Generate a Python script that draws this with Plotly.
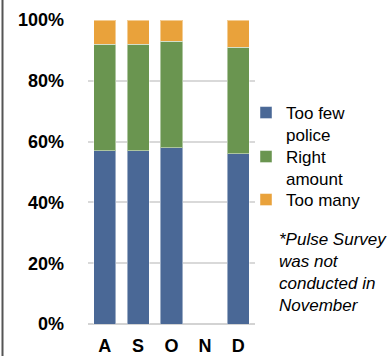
import plotly.graph_objects as go

# Monthly survey shares (November survey was not run)
months = ["A", "S", "O", "N", "D"]
too_few = [0.57, 0.57, 0.58, None, 0.56]
right_amount = [0.35, 0.35, 0.35, None, 0.35]
too_many = [0.08, 0.08, 0.07, None, 0.09]

series = [
    ("Too few<br>police", too_few, "#4A6896"),
    ("Right<br>amount", right_amount, "#6A9550"),
    ("Too many", too_many, "#E9A23B"),
]

W, H = 389, 356
ML, MR, MT, MB = 88, 134, 20, 32
PW, PH = W - ML - MR, H - MT - MB

font = "Liberation Sans, Arial, sans-serif"

# one legend box per series so the entries sit tightly stacked
legend_ids = ["legend", "legend2", "legend3"]
legend_tops_px = [95, 139, 182]

fig = go.Figure()
for (name, vals, color), lid in zip(series, legend_ids):
    fig.add_trace(go.Bar(
        x=months, y=vals, name=name, legend=lid,
        marker=dict(color=color, line=dict(color="rgba(255,255,255,0.45)", width=1)),
    ))

legend_style = dict(
    x=(246 - ML) / PW, xanchor="left", yanchor="top",
    valign="top", bgcolor="rgba(0,0,0,0)",
    font=dict(family=font, size=17, color="#000"),
)
legends = {
    lid: dict(legend_style, y=(H - MB - top) / PH)
    for lid, top in zip(legend_ids, legend_tops_px)
}

fig.update_layout(
    width=W, height=H,
    margin=dict(l=ML, r=MR, t=MT, b=MB, autoexpand=False),
    paper_bgcolor="white", plot_bgcolor="white",
    barmode="stack", bargap=0.34,
    showlegend=True,
    font=dict(family=font, color="#000"),
    **legends,
)

fig.update_yaxes(
    range=[0, 1], dtick=0.2, tickformat=".0%",
    showgrid=True, gridcolor="#D9D9D9", gridwidth=2,
    zeroline=True, zerolinecolor="#D3D3D3", zerolinewidth=2,
    showline=False, ticks="", automargin=False,
    tickfont=dict(family=font, size=18, color="#000", weight="bold"),
    ticklabelstandoff=23,
)
fig.update_xaxes(
    showgrid=False, showline=False, ticks="", automargin=False,
    tickfont=dict(family=font, size=18, color="#000", weight="bold"),
    ticklabelstandoff=9,
)

fig.add_annotation(
    text="*Pulse Survey<br>was not<br>conducted in<br>November",
    xref="paper", yref="paper",
    x=(277 - ML) / PW, xanchor="left",
    y=(H - MB - 228) / PH, yanchor="top",
    align="left", showarrow=False,
    font=dict(family=font, size=17, color="#000", style="italic"),
)

# Left frame line running the full height of the figure
fig.add_shape(
    type="line", xref="paper", yref="paper",
    x0=(2.5 - ML) / PW, x1=(2.5 - ML) / PW,
    y0=-MB / PH, y1=1 + MT / PH,
    line=dict(color="#555555", width=2),
)

fig.write_html("out.html")
